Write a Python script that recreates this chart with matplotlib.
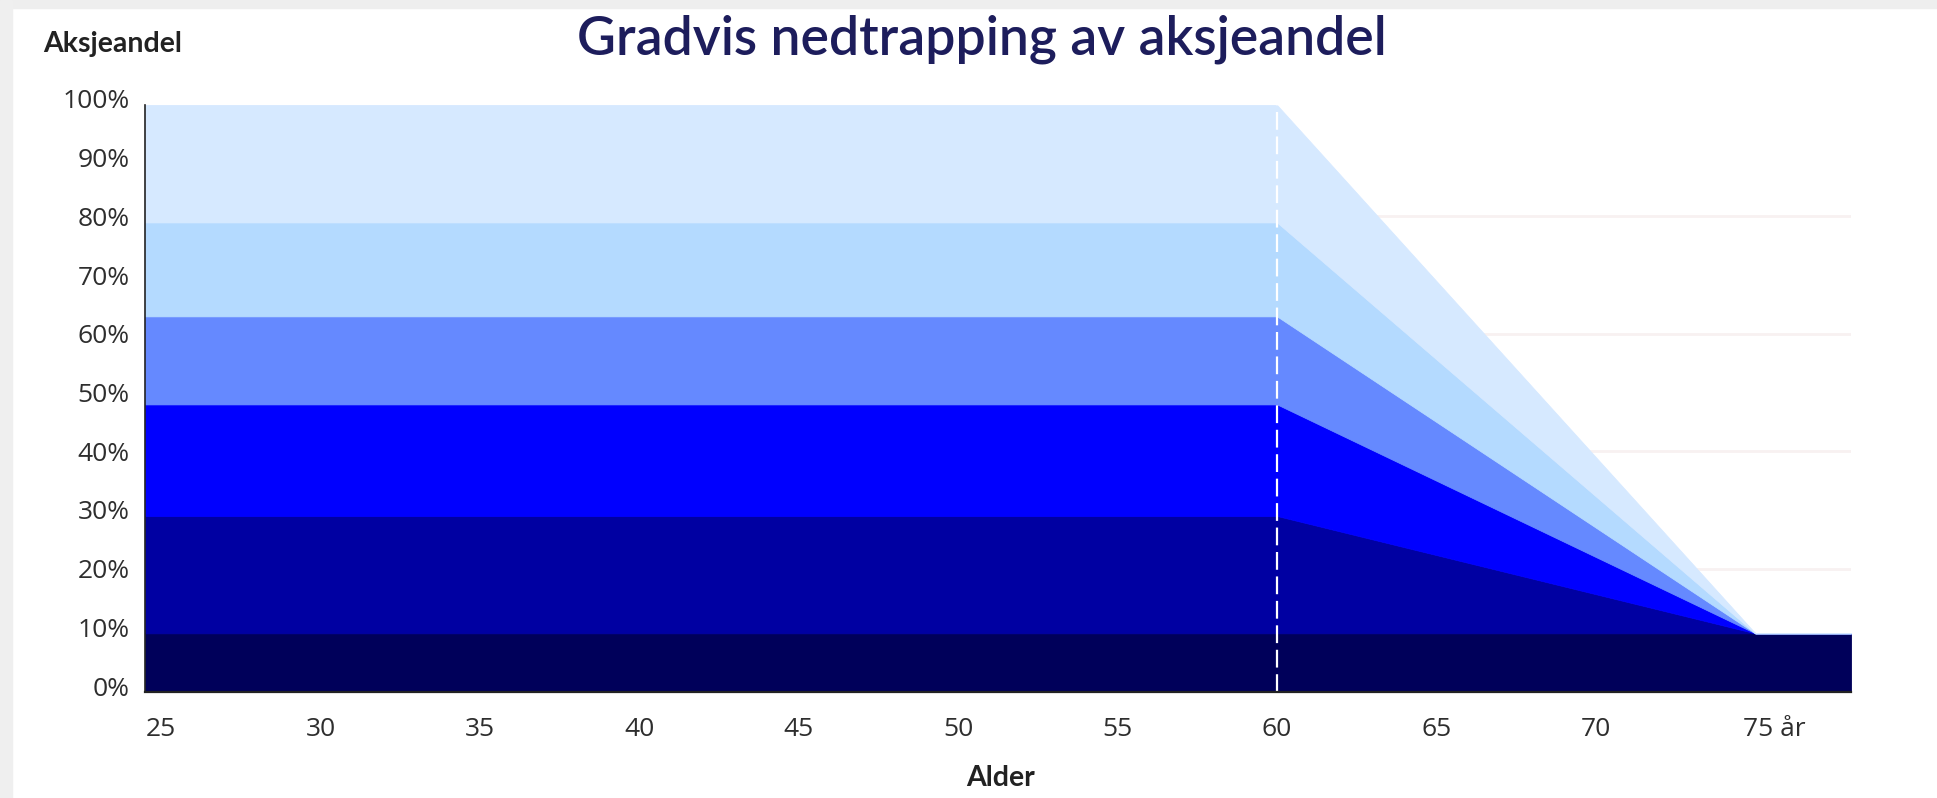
import matplotlib.pyplot as plt
from matplotlib.patches import Rectangle
from matplotlib.transforms import ScaledTranslation

# age points where the glide path changes
ages = [24.5, 60, 75, 78]

# upper edge of each band, stacked from the bottom (percent)
edge_10 = [10, 10, 10, 10]
edge_30 = [30, 30, 10, 10]
edge_50 = [49, 49, 10, 10]
edge_65 = [64, 64, 10, 10]
edge_80 = [80, 80, 10, 10]
edge_100 = [100, 100, 10, 10]

band_colors = ["#00005a", "#0000a2", "#0000ff", "#6589ff", "#b4daff", "#d6e9ff"]

start_of_decline = 60

x_ticks = [25, 30, 35, 40, 45, 50, 55, 60, 65, 70, 75]
x_labels = ["25", "30", "35", "40", "45", "50", "55", "60", "65", "70", "75 år"]
y_ticks = [0, 10, 20, 30, 40, 50, 60, 70, 80, 90, 100]
y_labels = [f"{v}%" for v in y_ticks]
grid_levels = [20, 40, 60, 80]

W, H = 1937, 798
fig = plt.figure(figsize=(W / 100, H / 100), dpi=100)
fig.patch.set_facecolor("white")

# grey frame of the card (screenshot edge)
fig.patches.append(Rectangle((0, 1 - 8 / H), 1, 8 / H, transform=fig.transFigure,
                             color="#eeeeee", zorder=0))
fig.patches.append(Rectangle((0, 0), 12 / W, 1, transform=fig.transFigure,
                             color="#efefef", zorder=0))

ax = fig.add_axes([145 / W, 1 - 692 / H, (1851 - 145) / W, (692 - 105) / H])

edges = [[0, 0, 0, 0], edge_10, edge_30, edge_50, edge_65, edge_80, edge_100]
for i, color in enumerate(band_colors):
	ax.fill_between(ages, edges[i], edges[i + 1], facecolor=color, edgecolor=color,
	                linewidth=0.6, zorder=2 + i * 0.01)

lift = ScaledTranslation(0, 6 / 100, fig.dpi_scale_trans)
ax.hlines(grid_levels, ages[0], ages[-1], color="#f8f1f1", linewidth=2, zorder=1,
          transform=ax.transData + lift)

ax.vlines(start_of_decline, 0, edge_100[1], color="white", linewidth=1.6,
          linestyles=(0, (8, 3)), zorder=3)

ax.set_xlim(ages[0], ages[-1])
ax.set_ylim(0, 100)

for s in ["top", "right"]:
	ax.spines[s].set_visible(False)
ax.spines["left"].set_color("#222222")
ax.spines["left"].set_linewidth(1.2)
ax.spines["bottom"].set_color("#222222")
ax.spines["bottom"].set_linewidth(1.6)
ax.spines["left"].set_zorder(4)
ax.spines["bottom"].set_zorder(4)

ax.set_xticks(x_ticks)
ax.set_xticklabels(x_labels, fontsize=19, color="#2e2e2e", family="Open Sans")
ax.set_yticks(y_ticks)
ax.set_yticklabels(y_labels, fontsize=19, color="#2e2e2e", family="Open Sans")
ax.tick_params(axis="x", length=0, pad=18)
ax.tick_params(axis="y", length=0, pad=11)

for lab in ax.get_yticklabels():
	lab.set_transform(lab.get_transform() + lift)
last = ax.get_xticklabels()[-1]
last.set_transform(last.get_transform() + ScaledTranslation(19 / 100, 0, fig.dpi_scale_trans))

fig.text(982 / W, 1 - 54 / H, "Gradvis nedtrapping av aksjeandel", ha="center", va="baseline",
         fontsize=38.5, fontweight="semibold", family="Lato", color="#1d1d5c")
fig.text(43 / W, 1 - 52 / H, "Aksjeandel", ha="left", va="baseline",
         fontsize=20.5, fontweight="bold", family="Lato", color="#222222")
fig.text(1001 / W, 1 - 786 / H, "Alder", ha="center", va="baseline",
         fontsize=20.5, fontweight="bold", family="Lato", color="#222222")

fig.savefig("out.png", dpi=100)
